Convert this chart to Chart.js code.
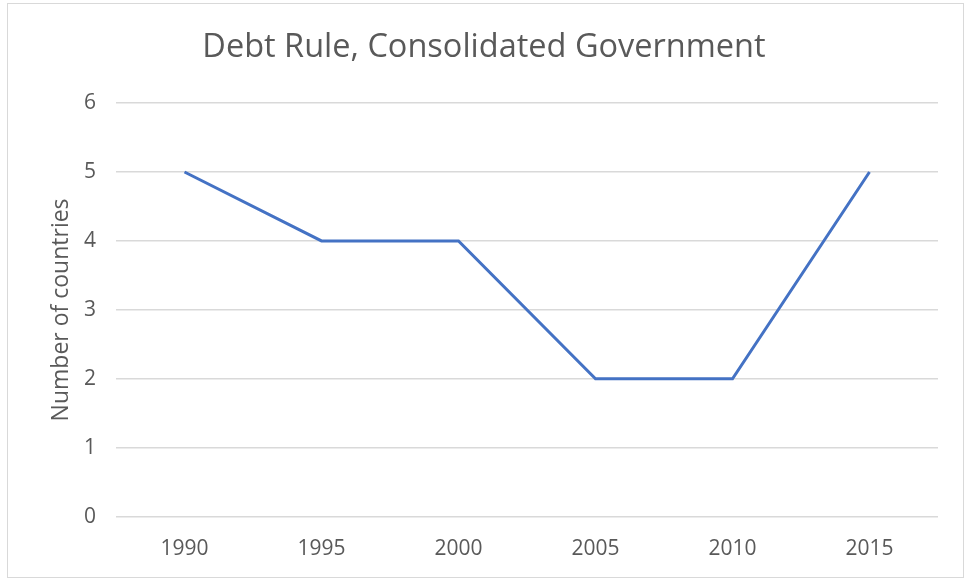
<!DOCTYPE html>
<html>
<head>
<meta charset="utf-8">
<script src="https://cdn.jsdelivr.net/npm/chart.js@4"></script>
<style>
  html, body { margin: 0; padding: 0; background: #fff; }
  #frame {
    position: absolute; left: 7px; top: 3px;
    width: 957px; height: 575px;
    border: 1px solid #d9d9d9; box-sizing: border-box;
  }
  #wrap { position: absolute; left: 0; top: 0; width: 969px; height: 582px; }
</style>
</head>
<body>
<div id="frame"></div>
<div id="wrap"><canvas id="myChart" width="969" height="582"></canvas></div>
<script>
const years = ['1990', '1995', '2000', '2005', '2010', '2015'];
const countries = [5, 4, 4, 2, 2, 5];

const grey = '#595959';
const font = '"Open Sans", "Noto Sans", sans-serif';

const ctx = document.getElementById('myChart').getContext('2d');

const myChart = new Chart(ctx, {
  type: 'line',
  data: {
    labels: years,
    datasets: [
      {
        label: 'Debt rule',
        data: countries,
        borderColor: '#4472C4',
        backgroundColor: '#4472C4',
        borderWidth: 3,
        pointRadius: 0,
        tension: 0,
      },
    ],
  },
  options: {
    responsive: false,
    animation: false,
    layout: {
      padding: { left: 30, right: 31, top: 10, bottom: 0 },
    },
    plugins: {
      legend: { display: false },
      tooltip: { enabled: false },
      title: {
        display: true,
        text: 'Debt Rule, Consolidated Government',
        color: grey,
        font: { family: font, size: 32.5, weight: 'normal', lineHeight: 1.2 },
        padding: { top: 18, bottom: 36 },
      },
    },
    scales: {
      x: {
        offset: true,
        grid: { display: false, drawTicks: false },
        border: { display: false },
        ticks: {
          color: grey,
          font: { family: font, size: 21, lineHeight: 1.2 },
          padding: 20,
        },
      },
      y: {
        min: 0,
        max: 6,
        afterFit: (scale) => {
          // keep the axis box a fixed width so the plot starts at x=116
          scale.width = 86;
        },
        ticks: {
          stepSize: 1,
          color: grey,
          font: { family: font, size: 21 },
          padding: 20,
        },
        grid: {
          color: '#d9d9d9',
          lineWidth: 1.5,
          drawTicks: false,
        },
        border: { display: false },
        title: {
          display: true,
          text: 'Number of countries',
          color: grey,
          font: { family: font, size: 23, lineHeight: 1.2 },
          padding: { top: 18, bottom: 0 },
        },
      },
    },
  },
});
</script>
</body>
</html>
